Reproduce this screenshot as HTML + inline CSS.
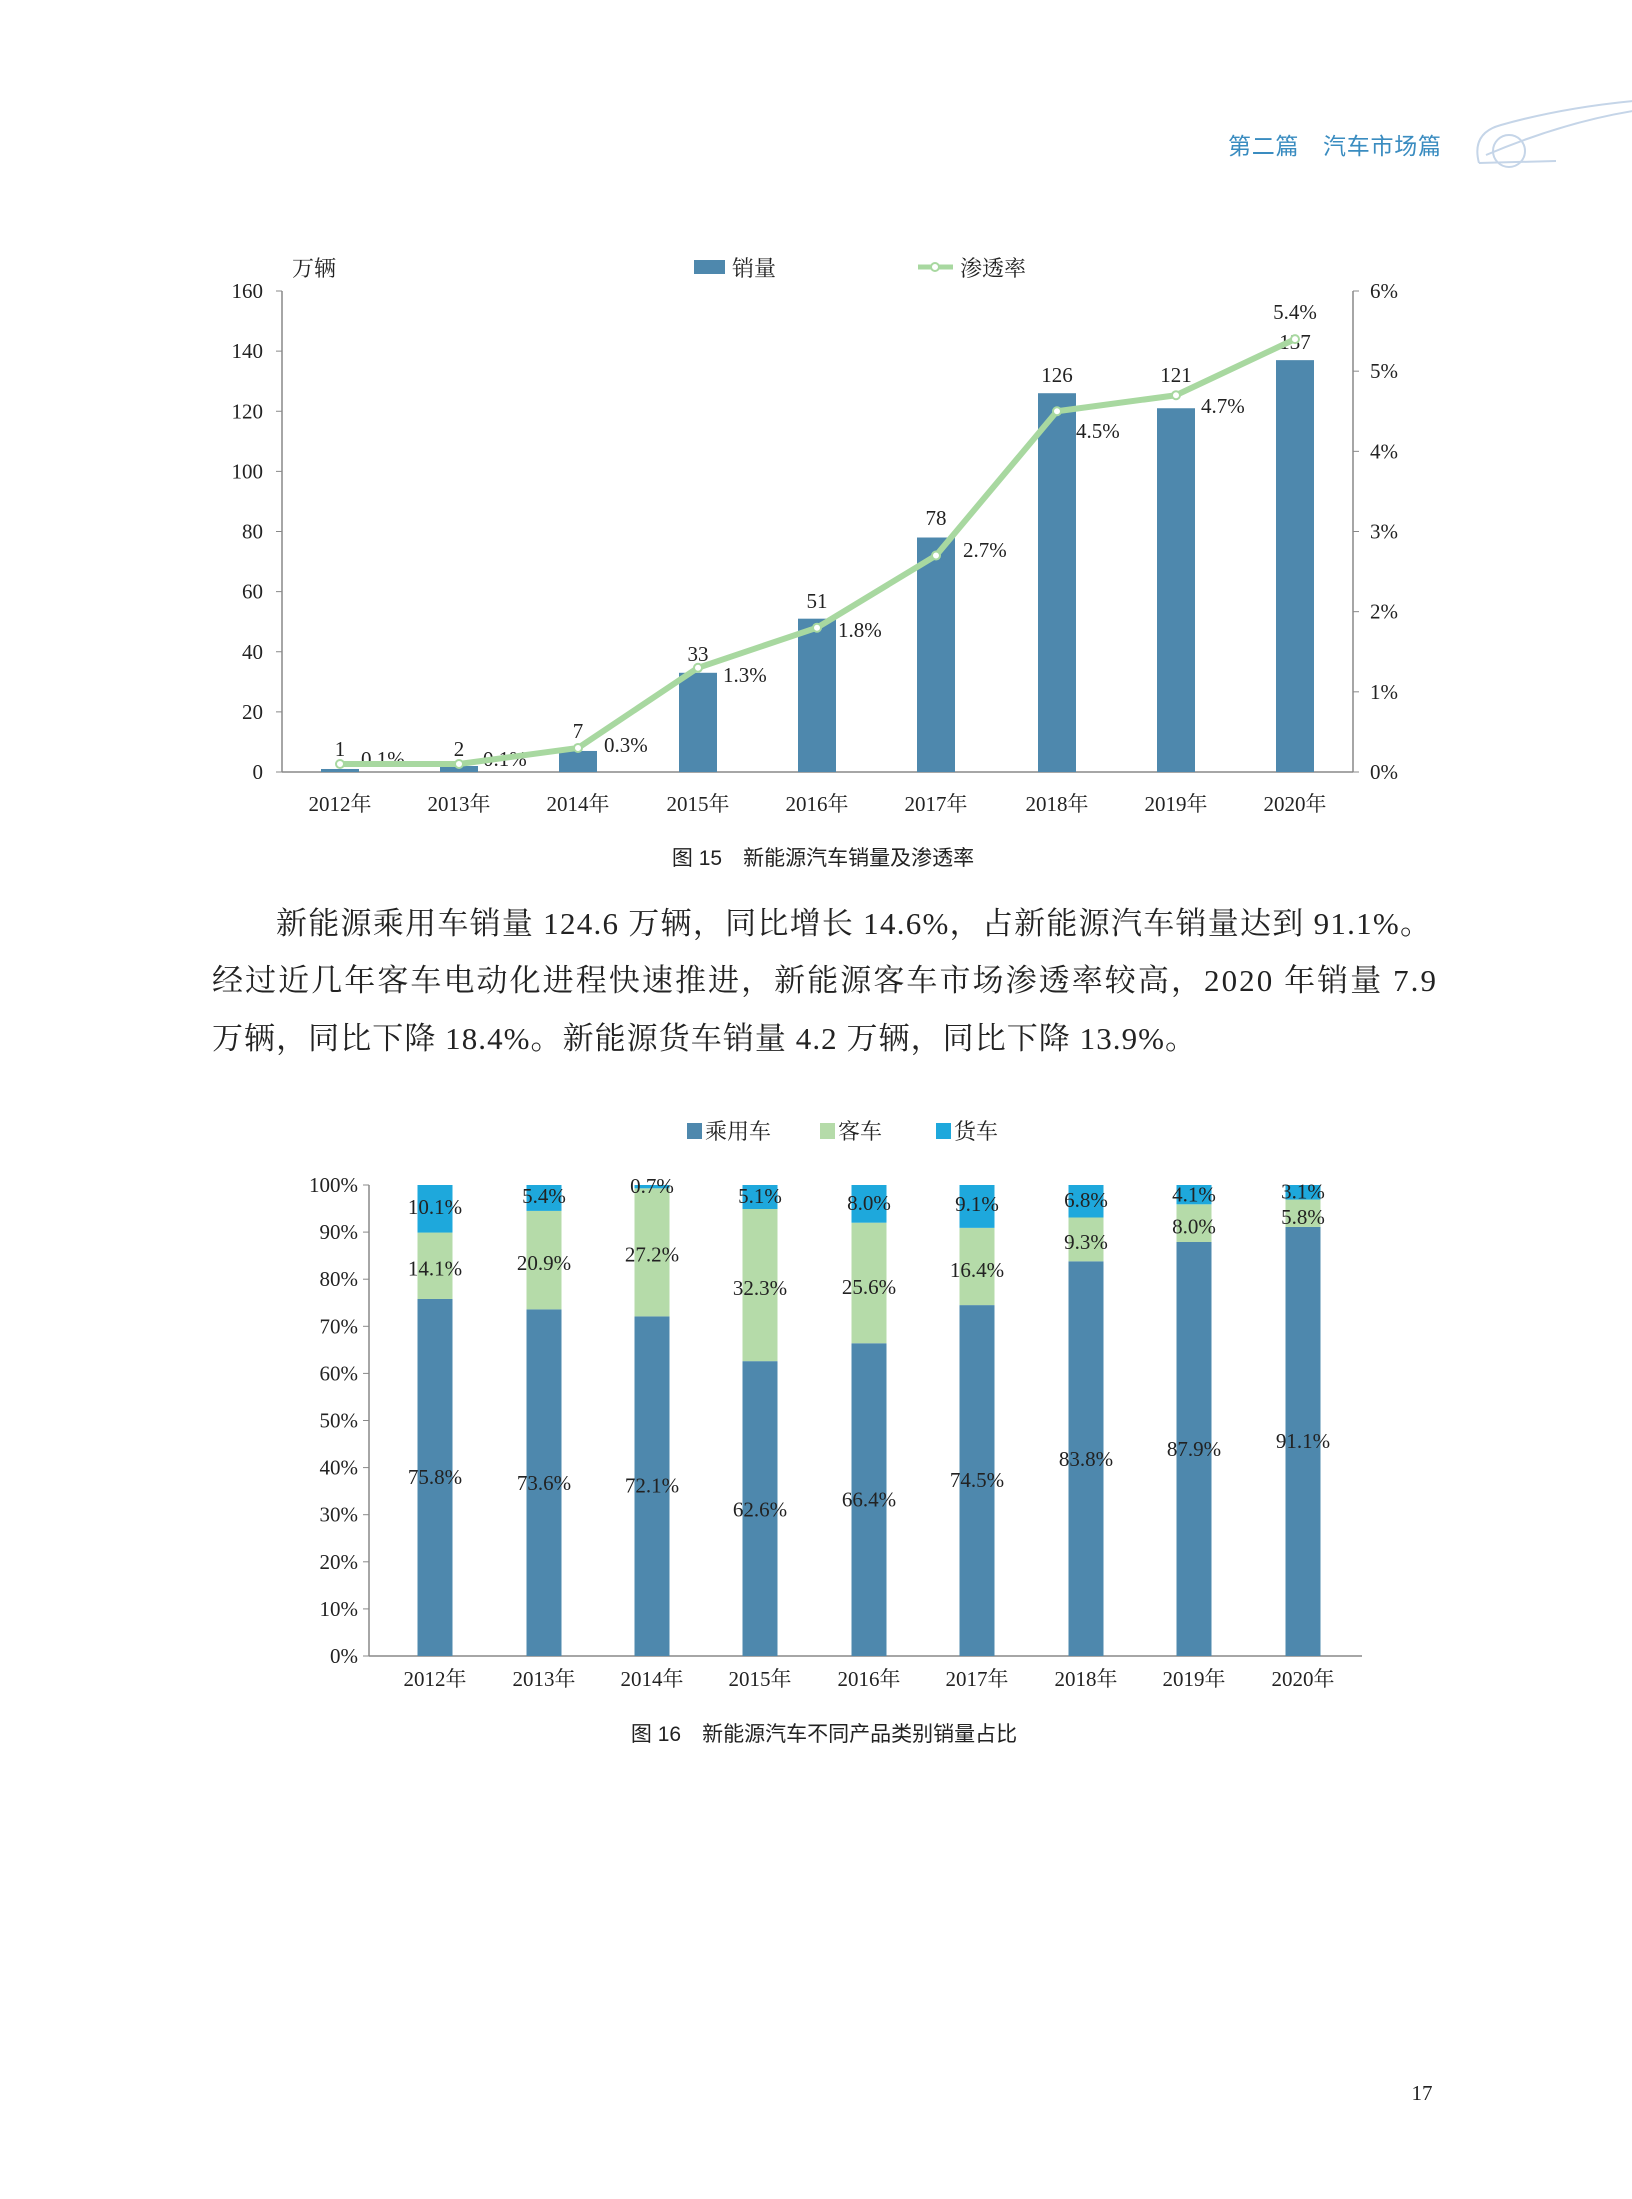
<!DOCTYPE html>
<html><head><meta charset="utf-8">
<style>
html,body{margin:0;padding:0;background:#fff;}
svg{display:block;}
.s{font-family:"Liberation Serif","Noto Serif CJK SC",serif;}
.ss{font-family:"Liberation Sans","Noto Sans CJK SC",sans-serif;}
</style></head>
<body>
<svg id="p" width="1632" height="2199" viewBox="0 0 1632 2199" xmlns="http://www.w3.org/2000/svg">
<rect width="1632" height="2199" fill="#fff"/>
<g transform="translate(1,3)">
<text x="1227" y="151" class="ss" font-size="23" fill="#3a8cc0" textLength="213">第二篇　汽车市场篇</text>
<g fill="none" stroke="#c5d5e8" stroke-width="2">
<path d="M1478 160 Q1470 130 1500 122 Q1560 105 1632 98"/>
<path d="M1485 152 Q1560 120 1632 108"/>
<circle cx="1508" cy="148" r="16"/>
<path d="M1478 160 L1555 158"/>
</g>
<g id="c1"></g>
<g id="c2"></g>
<g class="s" font-size="31" fill="#222">
<text x="275" y="931" textLength="1155">新能源乘用车销量 124.6 万辆，同比增长 14.6%，占新能源汽车销量达到 91.1%。</text>
<text x="211" y="988" textLength="1224">经过近几年客车电动化进程快速推进，新能源客车市场渗透率较高，2020 年销量 7.9</text>
<text x="211" y="1046" textLength="984">万辆，同比下降 18.4%。新能源货车销量 4.2 万辆，同比下降 13.9%。</text>
</g>
<text x="1421" y="2097" class="s" font-size="21" fill="#222" text-anchor="middle">17</text>
</g>
</svg>
<script>
var NS="http://www.w3.org/2000/svg";
function el(p,t,a,txt){var e=document.createElementNS(NS,t);for(var k in a)e.setAttribute(k,a[k]);if(txt!=null)e.textContent=txt;p.appendChild(e);return e;}
var yrs=["2012年","2013年","2014年","2015年","2016年","2017年","2018年","2019年","2020年"];
var g=document.getElementById("c1");
var L=281,R=1352,B=769,T=288;
el(g,"line",{x1:L,y1:T,x2:L,y2:B,stroke:"#888","stroke-width":1.5});
el(g,"line",{x1:R,y1:T,x2:R,y2:B,stroke:"#888","stroke-width":1.5});
el(g,"line",{x1:L,y1:B,x2:R,y2:B,stroke:"#888","stroke-width":1.5});
for(var i=0;i<=8;i++){var y=B-i*(B-T)/8;el(g,"line",{x1:L-6,y1:y,x2:L,y2:y,stroke:"#888"});
el(g,"text",{x:262,y:y+7,"text-anchor":"end","font-size":21,"class":"s",fill:"#222"},String(i*20));}
for(var i=0;i<=6;i++){var y=B-i*(B-T)/6;el(g,"line",{x1:R,y1:y,x2:R+6,y2:y,stroke:"#888"});
el(g,"text",{x:1369,y:y+7,"font-size":21,"class":"s",fill:"#222"},i+"%");}
el(g,"text",{x:291,y:273,"font-size":22,"class":"s",fill:"#222"},"万辆");
el(g,"rect",{x:693,y:257,width:31,height:14,fill:"#4e88ad"});
el(g,"text",{x:731,y:273,"font-size":22,"class":"s",fill:"#222"},"销量");
el(g,"line",{x1:917,y1:264,x2:952,y2:264,stroke:"#a8d8a0","stroke-width":5});
el(g,"circle",{cx:934,cy:264,r:4,fill:"#fff",stroke:"#a8d8a0","stroke-width":2});
el(g,"text",{x:959,y:273,"font-size":22,"class":"s",fill:"#222"},"渗透率");
var v=[1,2,7,33,51,78,126,121,137],pc=[0.1,0.1,0.3,1.3,1.8,2.7,4.5,4.7,5.4];
var cx=[339,458,577,697,816,935,1056,1175,1294];
var vly=[746,746,728,651,598,515,372,372,339];
var pl=[[360,756],[482,756],[603,742],[722,672],[837,627],[962,547],[1075,428],[1200,403],[1294,309]];
var pts=[];
for(var i=0;i<9;i++){var h=v[i]*(B-T)/160;el(g,"rect",{x:cx[i]-19,y:B-h,width:38,height:h,fill:"#4e88ad"});
pts.push(cx[i]+","+(B-pc[i]*(B-T)/6));
el(g,"text",{x:cx[i],y:vly[i]+7,"text-anchor":"middle","font-size":21,"class":"s",fill:"#222"},String(v[i]));
el(g,"text",{x:pl[i][0],y:pl[i][1]+7,"text-anchor":i==8?"middle":"start","font-size":21,"class":"s",fill:"#222"},pc[i].toFixed(1)+"%");
el(g,"text",{x:cx[i],y:808,"text-anchor":"middle","font-size":21,"class":"s",fill:"#222"},yrs[i]);}
el(g,"polyline",{points:pts.join(" "),fill:"none",stroke:"#a8d8a0","stroke-width":6,"stroke-linejoin":"round"});
pts.forEach(function(p){var a=p.split(",");el(g,"circle",{cx:a[0],cy:a[1],r:4,fill:"#fff",stroke:"#a8d8a0","stroke-width":2});});
el(g,"text",{x:822,y:862,"text-anchor":"middle","font-size":21,"class":"ss",fill:"#222"},"图 15　新能源汽车销量及渗透率");
var g2=document.getElementById("c2");
var L2=368,R2=1361,B2=1653,T2=1182,sc=(B2-T2)/100;
el(g2,"line",{x1:L2,y1:T2,x2:L2,y2:B2,stroke:"#888","stroke-width":1.5});
el(g2,"line",{x1:L2,y1:B2,x2:R2,y2:B2,stroke:"#888","stroke-width":1.5});
for(var i=0;i<=10;i++){var y=B2-i*10*sc;el(g2,"line",{x1:L2-6,y1:y,x2:L2,y2:y,stroke:"#888"});
el(g2,"text",{x:357,y:y+7,"text-anchor":"end","font-size":21,"class":"s",fill:"#222"},(i*10)+"%");}
el(g2,"rect",{x:686,y:1120,width:15,height:16,fill:"#4e88ad"});
el(g2,"text",{x:704,y:1136,"font-size":22,"class":"s",fill:"#222"},"乘用车");
el(g2,"rect",{x:819,y:1120,width:15,height:16,fill:"#b5dba9"});
el(g2,"text",{x:837,y:1136,"font-size":22,"class":"s",fill:"#222"},"客车");
el(g2,"rect",{x:935,y:1120,width:15,height:16,fill:"#1ea8dc"});
el(g2,"text",{x:953,y:1136,"font-size":22,"class":"s",fill:"#222"},"货车");
var P=[75.8,73.6,72.1,62.6,66.4,74.5,83.8,87.9,91.1],Bu=[14.1,20.9,27.2,32.3,25.6,16.4,9.3,8.0,5.8],Tr=[10.1,5.4,0.7,5.1,8.0,9.1,6.8,4.1,3.1];
var cx2=[434,543,651,759,868,976,1085,1193,1302];
var py=[1053,1057,1059,1076,1069,1055,1040,1033,1027],by=[904,900,894,918,917,905,885,874,867],ty=[860,852,845,852,857,858,855,851,849];
for(var i=0;i<9;i++){var x=cx2[i]-17.5,w=35;
var hp=P[i]*sc,hb=Bu[i]*sc;
el(g2,"rect",{x:x,y:B2-hp,width:w,height:hp,fill:"#4e88ad"});
el(g2,"rect",{x:x,y:B2-hp-hb,width:w,height:hb,fill:"#b5dba9"});
el(g2,"rect",{x:x,y:T2,width:w,height:B2-hp-hb-T2,fill:"#1ea8dc"});
el(g2,"text",{x:cx2[i],y:py[i]*1.4+7,"text-anchor":"middle","font-size":21,"class":"s",fill:"#222"},P[i].toFixed(1)+"%");
el(g2,"text",{x:cx2[i],y:by[i]*1.4+7,"text-anchor":"middle","font-size":21,"class":"s",fill:"#222"},Bu[i].toFixed(1)+"%");
el(g2,"text",{x:cx2[i],y:ty[i]*1.4+7,"text-anchor":"middle","font-size":21,"class":"s",fill:"#222"},Tr[i].toFixed(1)+"%");
el(g2,"text",{x:cx2[i],y:1683,"text-anchor":"middle","font-size":21,"class":"s",fill:"#222"},yrs[i]);}
el(g2,"text",{x:823,y:1738,"text-anchor":"middle","font-size":21,"class":"ss",fill:"#222"},"图 16　新能源汽车不同产品类别销量占比");
</script>
</body></html>
